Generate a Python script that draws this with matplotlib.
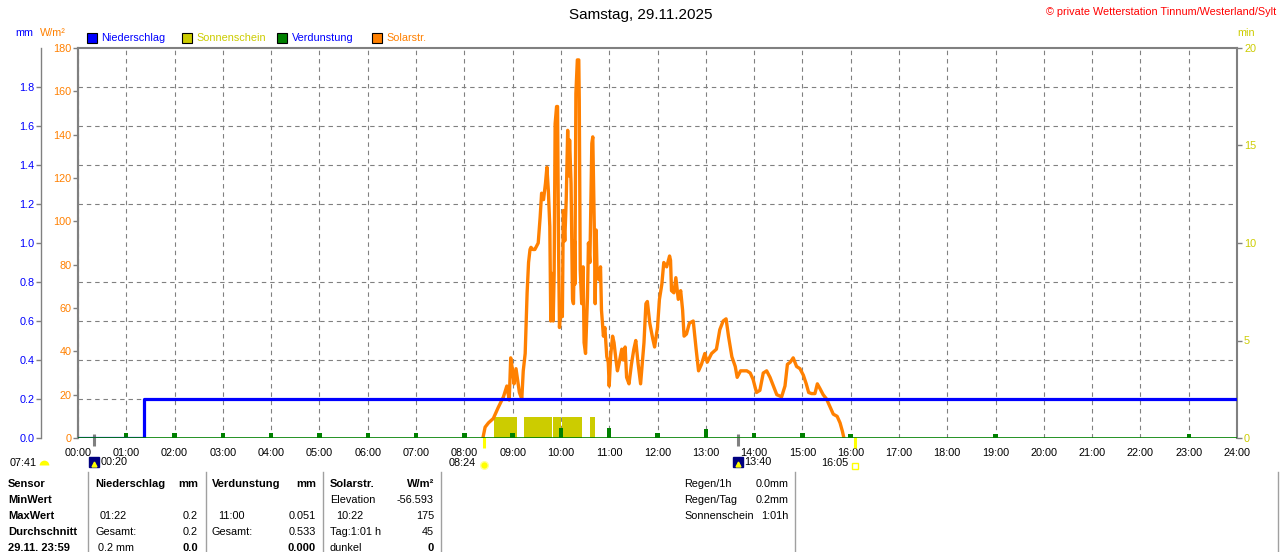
import numpy as np
import matplotlib
matplotlib.use('Agg')
import matplotlib.pyplot as plt
from matplotlib.patches import Rectangle
from matplotlib.lines import Line2D
from matplotlib.markers import MarkerStyle

plt.rcParams['font.family'] = ['Liberation Sans', 'DejaVu Sans']

# --- data (time in hours) ---
hours = list(range(25))
hour_labels = ['%02d:00' % h for h in hours]

# Solarstrahlung W/m²
sol_t = [8.39, 8.43, 8.50, 8.60, 8.70, 8.81, 8.88, 8.93, 8.96, 9.00, 9.03, 9.07, 9.14, 9.19,
         9.22, 9.26, 9.30, 9.33, 9.36, 9.38, 9.42, 9.46, 9.53, 9.57, 9.60, 9.64, 9.68, 9.71,
         9.74, 9.77, 9.79, 9.81, 9.84, 9.86, 9.88, 9.91, 9.93, 9.95, 9.97, 9.995, 10.03, 10.05,
         10.08, 10.11, 10.14, 10.16, 10.18, 10.21, 10.24, 10.26, 10.28, 10.29, 10.31, 10.34,
         10.37, 10.38, 10.40, 10.43, 10.46, 10.48, 10.51, 10.55, 10.57, 10.60, 10.64, 10.66,
         10.69, 10.71, 10.73, 10.75, 10.79, 10.82, 10.84, 10.88, 10.91, 10.95, 10.98, 11.00,
         11.03, 11.07, 11.10, 11.14, 11.17, 11.20, 11.26, 11.29, 11.33, 11.36, 11.41, 11.46,
         11.51, 11.55, 11.60, 11.65, 11.69, 11.72, 11.76, 11.79, 11.84, 11.90, 11.94, 12.00,
         12.04, 12.09, 12.13, 12.19, 12.25, 12.27, 12.29, 12.34, 12.38, 12.43, 12.48, 12.52,
         12.55, 12.60, 12.66, 12.74, 12.80, 12.85, 12.91, 12.98, 13.03, 13.12, 13.22, 13.29,
         13.36, 13.42, 13.47, 13.54, 13.61, 13.65, 13.72, 13.78, 13.85, 13.92, 13.98, 14.05,
         14.12, 14.19, 14.26, 14.33, 14.40, 14.47, 14.57, 14.64, 14.69, 14.75, 14.81, 14.88,
         14.95, 15.02, 15.08, 15.13, 15.19, 15.26, 15.31, 15.36, 15.43, 15.50, 15.56, 15.64,
         15.72, 15.78, 15.83, 15.86]
sol_w = [0.6, 5, 7, 9, 14, 19, 24, 17.5, 37, 31, 25, 32, 21, 18,
         31, 39, 67, 81, 87, 88, 87, 87, 90, 102, 113, 110, 117.5, 125,
         114, 97.5, 54, 76, 54, 76, 145, 153, 153, 90, 51, 59, 56, 105,
         91, 110, 142, 121, 137.5, 117.5, 64, 62, 91, 71, 159, 174.5,
         174.5, 156, 77.5, 62, 79, 44, 39, 65, 90, 81, 136, 139,
         99, 62, 96, 75, 73, 79, 59, 47, 51, 37.5, 35, 24,
         38, 47, 44, 36, 31, 34, 41, 36, 42, 28, 25, 34,
         41, 45, 34, 25, 36, 44, 62, 63, 53, 46, 42, 51,
         64, 71, 81, 79, 84, 82, 68, 67, 74, 64, 68, 59,
         47, 48, 53, 54, 41, 31, 34, 39, 35, 39, 41, 50,
         54, 55, 47, 37.5, 33, 28, 31, 31, 31, 30, 27, 21,
         22, 30, 31, 28, 24, 20, 19, 24, 34, 35, 37, 33,
         32, 29, 25, 21, 20.5, 20.5, 25, 23, 20, 18, 15, 11,
         10, 7, 3, 0]

# Niederschlag (Summe, mm)
rain_t = [0, 1.367, 24]
rain_mm = [0, 0.2, 0.2]

# Verdunstung je Stunde (mm)
evap_h = [1, 2, 3, 4, 5, 6, 7, 8, 9, 10, 11, 12, 13, 14, 15, 16, 19, 23]
evap_mm = [0.025, 0.025, 0.025, 0.025, 0.025, 0.025, 0.025, 0.025, 0.025, 0.05, 0.051,
           0.025, 0.046, 0.025, 0.025, 0.022, 0.022, 0.022]

# Sonnenschein (min)
sun_start = np.array([8.615, 9.236, 9.836, 10.02, 10.60])
sun_end = np.array([9.097, 9.81, 9.995, 10.43, 10.71])
sun_min = [1.1, 1.1, 1.1, 1.1, 1.1]

# Sonne / Mond Auf- und Untergang
sun_events = [8.4, 16.083]
sun_labels = ['08:24', '16:05']
moon_events = [0.333, 13.667]
moon_labels = ['00:20', '13:40']

BLUE = '#0000ff'
ORANGE = '#ff8000'
OLIVE = '#cccc00'
GREEN = '#008000'
GRAY = '#808080'
FS = 7.8

W, H = 1280, 552
fig = plt.figure(figsize=(12.8, 5.52), dpi=100)
fig.patch.set_facecolor('white')


def fx(x):
    return x / W


def fy(y):
    return 1 - y / H


L, R, T, B = 78, 1237, 48, 438
base = fig.add_axes([fx(L), fy(B), (R - L) / W, (B - T) / H])
ax_sol = base.twinx()
ax_mm = base.twinx()
base.yaxis.tick_right()
base.yaxis.set_label_position('right')
ax_sol.yaxis.tick_left()
ax_mm.yaxis.tick_left()

base.set_xlim(0, 24)
base.set_ylim(0, 20)
ax_sol.set_ylim(0, 180)
ax_mm.set_ylim(0, 2.0)

# spines
for s in ['top', 'right', 'left']:
    base.spines[s].set_color(GRAY)
    base.spines[s].set_linewidth(1.5)
base.spines['bottom'].set_visible(False)
for a in (ax_sol, ax_mm):
    for s in ['top', 'right', 'bottom']:
        a.spines[s].set_visible(False)
ax_sol.spines['left'].set_color(GRAY)
ax_sol.spines['left'].set_linewidth(1.5)
ax_mm.spines['left'].set_position(('outward', 37 * 0.72))
ax_mm.spines['left'].set_color(GRAY)
ax_mm.spines['left'].set_linewidth(1.0)

# ticks + grid
base.set_xticks(hours)
base.set_xticklabels(hour_labels)
base.tick_params(axis='x', length=0, pad=7, labelsize=FS)
base.set_yticks([0, 5, 10, 15, 20])
base.set_yticks(np.arange(0, 21, 2), minor=True)
base.tick_params(axis='y', which='major', length=3.6, width=1, color=GRAY,
                 labelcolor=OLIVE, labelsize=FS, pad=1.5)
base.tick_params(axis='y', which='minor', length=0)
grid_kw = dict(color=GRAY, linewidth=0.8, linestyle=(0, (4, 3.5)))
base.grid(axis='x', which='major', **grid_kw)
base.grid(axis='y', which='minor', **grid_kw)
base.set_axisbelow(True)

ax_sol.set_yticks(range(0, 181, 20))
ax_sol.tick_params(axis='y', length=3.6, width=1, color=GRAY, labelcolor=ORANGE,
                   labelsize=FS, pad=1.2)
ax_mm.set_yticks(np.arange(0, 1.81, 0.2))
ax_mm.set_yticklabels(['%.1f' % v for v in np.arange(0, 1.81, 0.2)])
ax_mm.tick_params(axis='y', length=3.6, width=1, color=GRAY, labelcolor=BLUE,
                  labelsize=FS, pad=1.2)

# data
base.bar(sun_start, sun_min, width=sun_end - sun_start, align='edge', color=OLIVE,
         linewidth=0)
ax_sol.plot(sol_t, sol_w, color=ORANGE, linewidth=2.4)
ax_mm.plot(rain_t, rain_mm, drawstyle='steps-post', color=BLUE, linewidth=2.3)
ax_mm.bar(evap_h, evap_mm, width=0.09, color=GREEN, linewidth=0)
ax_mm.axhline(0, color=GREEN, linewidth=1.2, zorder=5)

# sunrise / moonrise marks below the axis
xt = base.get_xaxis_transform()
for t, lab in zip(sun_events, sun_labels):
    base.plot([t, t], [0.003, -0.026], transform=xt, color='#ffff00', lw=2.2,
              clip_on=False, solid_capstyle='butt')
for t, lab in zip(moon_events, moon_labels):
    base.plot([t, t], [0.01, -0.02], transform=xt, color=GRAY, lw=2.2,
              clip_on=False, solid_capstyle='butt')
    base.plot([t], [-0.062], transform=xt, marker='s', ms=7, color='#000080',
              clip_on=False)
    base.plot([t], [-0.066], transform=xt, marker='^', ms=3.5, color='#ffff00',
              clip_on=False)
    base.annotate(lab, (t, -0.062), xycoords=xt, xytext=(4.6, 0),
                  textcoords='offset points', ha='left', va='center', fontsize=FS)
base.plot([sun_events[0]], [-0.068], transform=xt, marker='o', ms=5.5, color='#ffff00',
          mec='#ffff99', clip_on=False)
base.annotate(sun_labels[0], (sun_events[0], -0.064), xycoords=xt, xytext=(-6, 0),
              textcoords='offset points', ha='right', va='center', fontsize=FS)
base.plot([sun_events[1]], [-0.072], transform=xt, marker='s', ms=4, mfc='none',
          mec='#ffff00', mew=1, clip_on=False)
base.annotate(sun_labels[1], (sun_events[1], -0.064), xycoords=xt, xytext=(-4.5, 0),
              textcoords='offset points', ha='right', va='center', fontsize=FS)
fig.text(fx(10), fy(463), '07:41', fontsize=FS, ha='left', va='center')
fig.add_artist(Line2D([fx(44)], [fy(465)], marker=MarkerStyle('o', fillstyle='top'),
                      ms=7, mfc='#ffff00', mec='none', color='#ffff00'))

# titles
fig.text(fx(641), fy(15), 'Samstag, 29.11.2025', ha='center', va='center', fontsize=11)
fig.text(fx(1276), fy(12), '\u00a9 private Wetterstation Tinnum/Westerland/Sylt',
         ha='right', va='center', fontsize=FS, color='#ff0000')
fig.text(fx(15), fy(33), 'mm', ha='left', va='center', fontsize=FS, color=BLUE)
fig.text(fx(40), fy(33), 'W/m²', ha='left', va='center', fontsize=FS, color=ORANGE)
fig.text(fx(1237), fy(33), 'min', ha='left', va='center', fontsize=FS, color=OLIVE)

# legend
leg_items = [('Niederschlag', BLUE, BLUE), ('Sonnenschein', OLIVE, OLIVE),
             ('Verdunstung', GREEN, BLUE), ('Solarstr.', ORANGE, ORANGE)]
for i, (name, fc, tc) in enumerate(leg_items):
    x0 = 87 + i * 95
    fig.add_artist(Rectangle((fx(x0), fy(43)), 9.5 / W, 10 / H, facecolor=fc,
                             edgecolor='black', linewidth=0.8, transform=fig.transFigure))
    fig.text(fx(x0 + 14.5), fy(38), name, ha='left', va='center', fontsize=FS, color=tc)

# table below
for x in [88, 206, 323, 441, 795, 1278]:
    fig.add_artist(Line2D([fx(x), fx(x)], [fy(472), fy(552)], color='#a0a0a0', lw=1))
rows_y = [484, 500, 516, 532, 548]
row_heads = ['Sensor', 'MinWert', 'MaxWert', 'Durchschnitt', '29.11. 23:59']
for y, s in zip(rows_y, row_heads):
    fig.text(fx(8), fy(y), s, ha='left', va='center', fontsize=8, fontweight='bold')
cells = [
    (95, 0, 'Niederschlag', 'left', True), (198, 0, 'mm', 'right', True),
    (212, 0, 'Verdunstung', 'left', True), (316, 0, 'mm', 'right', True),
    (330, 0, 'Solarstr.', 'left', True), (434, 0, 'W/m²', 'right', True),
    (330, 1, 'Elevation', 'left', False), (434, 1, '-56.593', 'right', False),
    (100, 2, '01:22', 'left', False), (198, 2, '0.2', 'right', False),
    (218, 2, '11:00', 'left', False), (316, 2, '0.051', 'right', False),
    (336, 2, '10:22', 'left', False), (434, 2, '175', 'right', False),
    (95, 3, 'Gesamt:', 'left', False), (198, 3, '0.2', 'right', False),
    (212, 3, 'Gesamt:', 'left', False), (316, 3, '0.533', 'right', False),
    (330, 3, 'Tag:1:01 h', 'left', False), (434, 3, '45', 'right', False),
    (98, 4, '0.2 mm', 'left', False), (198, 4, '0.0', 'right', True),
    (316, 4, '0.000', 'right', True), (330, 4, 'dunkel', 'left', False),
    (434, 4, '0', 'right', True),
]
for x, r, s, ha, bold in cells:
    fig.text(fx(x), fy(rows_y[r]), s, ha=ha, va='center', fontsize=8 if bold else FS,
             fontweight='bold' if bold else 'normal')
summary = [('Regen/1h', '0.0mm'), ('Regen/Tag', '0.2mm'), ('Sonnenschein', '1:01h')]
for (a, b), y in zip(summary, rows_y[:3]):
    fig.text(fx(684), fy(y), a, ha='left', va='center', fontsize=FS)
    fig.text(fx(789), fy(y), b, ha='right', va='center', fontsize=FS)

fig.savefig('out.png', dpi=100)
